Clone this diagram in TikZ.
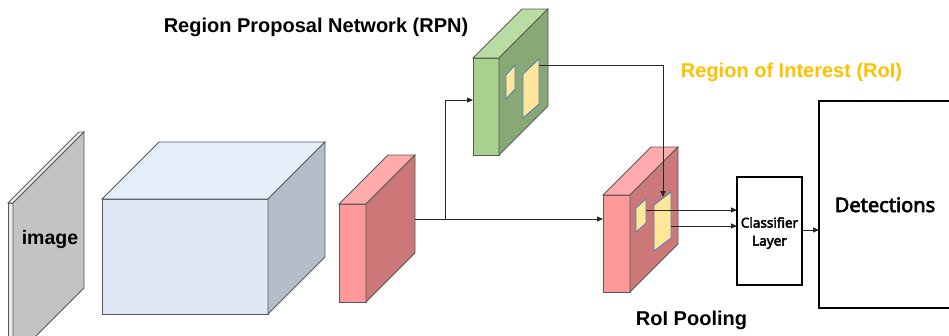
\documentclass[tikz,border=0pt]{standalone}
\usepackage{fontspec}
\setmainfont{Liberation Sans}
\newfontfamily\gothic{Noto Sans}[FakeBold=3.2]
\usetikzlibrary{arrows.meta}

\definecolor{imgfront}{HTML}{EBEBEB}
\definecolor{imgtop}{HTML}{F2F2F2}
\definecolor{imgside}{HTML}{C3C3C3}
\definecolor{cubefront}{HTML}{DEE9F5}
\definecolor{cubetop}{HTML}{E4EEF8}
\definecolor{cubeside}{HTML}{B4BEC8}
\definecolor{redfront}{HTML}{FF9999}
\definecolor{redtop}{HTML}{FFABAB}
\definecolor{redside}{HTML}{CC7878}
\definecolor{grnfront}{HTML}{A9D18E}
\definecolor{grntop}{HTML}{B9DCA2}
\definecolor{grnside}{HTML}{88A876}
\definecolor{roifill}{HTML}{FFE699}
\definecolor{roiedge}{HTML}{4A7EBB}
\definecolor{roitext}{HTML}{FFC000}
\definecolor{wire}{HTML}{262626}

\tikzset{
  edge/.style={draw=black!65, line width=0.8pt},
  roibox/.style={fill=roifill, draw=roiedge, line width=0.8pt},
  wireline/.style={draw=wire, line width=1pt},
  arrowline/.style={wireline, -{Triangle[length=6pt,width=5pt]}},
  blockbox/.style={draw=black, line width=2pt},
  title/.style={font=\bfseries\fontsize{20}{24}\selectfont, inner sep=0pt, anchor=base},
}

% prism: front face top-left (#1,#2), width #3, height #4, depth #5 (45 deg),
% fills for front, top and side faces
\newcommand\prism[8]{%
  \filldraw[edge, fill=#6] (#1,#2) rectangle ++(#3,#4);
  \filldraw[edge, fill=#7] (#1,#2) -- ++(#5,-#5) -- ++(#3,0) -- ++(-#5,#5) -- cycle;
  \filldraw[edge, fill=#8] (#1+#3,#2) -- ++(#5,-#5) -- ++(0,#4) -- ++(-#5,#5) -- cycle;
}

\begin{document}
\begin{tikzpicture}[x=1pt, y=-1pt]
  \useasboundingbox (0,0) rectangle (949,335);
  \clip (0,0) rectangle (949,335);

  % input image slab
  \prism{8}{203}{5}{156}{71}{imgfront}{imgtop}{imgside}
  \node[title, font=\bfseries\fontsize{19.5}{23}\selectfont] (img) at (50,244) {image};

  % backbone feature extractor
  \prism{102}{199}{166}{115}{57}{cubefront}{cubetop}{cubeside}

  % feature map
  \prism{339}{204}{27}{98}{49}{redfront}{redtop}{redside}
  \coordinate (fmap) at (415,219);

  % region proposal network
  \prism{473}{58}{26}{97}{49}{grnfront}{grntop}{grnside}
  \filldraw[roibox] (506,75) -- (515,65) -- (515,89) -- (506,99) -- cycle;
  \filldraw[roibox] (523,74) -- (539,59) -- (539,104) -- (523,118) -- cycle;
  \coordinate (rpnin) at (473,100);
  \coordinate (rpnout) at (539,65);
  \node[title] (rpnlabel) at (316,32) {Region Proposal Network (RPN)};
  \node[title, text=roitext] (roilabel) at (791.5,77) {Region of Interest (RoI)};

  % RoI pooling
  \prism{603}{195}{27}{97}{48}{redfront}{redtop}{redside}
  \filldraw[roibox] (636,208) -- (646,199) -- (646,223) -- (636,232) -- cycle;
  \filldraw[roibox] (654,205) -- (671,192) -- (671,238) -- (654,251) -- cycle;
  \coordinate (poolin) at (603,219);
  \coordinate (poolroi) at (663,197);
  \coordinate (roiA) at (646,210);
  \coordinate (roiB) at (671,226);
  \node[title] (poollabel) at (691.5,325) {RoI Pooling};

  % classifier and detections
  \draw[blockbox] (737,177) rectangle (802,285);
  \coordinate (clsA) at (737,210);
  \coordinate (clsB) at (737,226);
  \coordinate (clsout) at (802,230);
  \node[inner sep=0pt, align=center, font=\gothic\fontsize{13.5}{18}\selectfont] (cls) at (769.5,233) {Classifier\\Layer};
  \draw[blockbox] (819,101) rectangle (960,308);
  \coordinate (detin) at (819,230);
  \node[title, font=\gothic\fontsize{20}{24}\selectfont] (det) at (885,212) {Detections};

  % connectors
  \coordinate (split) at (445,219);
  \draw[wireline] (fmap) -- (split);
  \draw[arrowline] (split) |- (rpnin);
  \draw[arrowline] (split) -- (poolin);
  \draw[arrowline] (rpnout) -| (poolroi);
  \draw[arrowline] (roiA) -- (clsA);
  \draw[arrowline] (roiB) -- (clsB);
  \draw[arrowline] (clsout) -- (detin);
\end{tikzpicture}
\end{document}
